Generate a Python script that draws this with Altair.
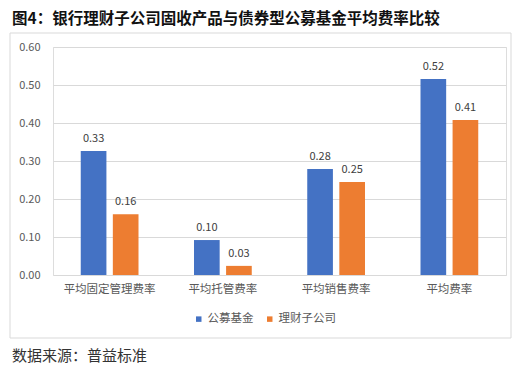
import altair as alt
import pandas as pd

categories = ["平均固定管理费率", "平均托管费率", "平均销售费率", "平均费率"]
series = ["公募基金", "理财子公司"]
fund_values = [0.326, 0.092, 0.279, 0.516]
wealth_values = [0.160, 0.024, 0.245, 0.408]
fund_labels = ["0.33", "0.10", "0.28", "0.52"]
wealth_labels = ["0.16", "0.03", "0.25", "0.41"]
y_ticks = [0, 0.1, 0.2, 0.3, 0.4, 0.5, 0.6]
colors = ["#4472C4", "#ED7D31"]
title_text = "图4：银行理财子公司固收产品与债券型公募基金平均费率比较"
source_text = "数据来源：普益标准"

rows = []
for i, c in enumerate(categories):
    rows.append({"cat": c, "series": series[0], "value": fund_values[i], "label": fund_labels[i]})
    rows.append({"cat": c, "series": series[1], "value": wealth_values[i], "label": wealth_labels[i]})
df = pd.DataFrame(rows)

FONT = "Noto Sans CJK SC"

x = alt.X("cat:N", sort=categories, title=None,
          scale=alt.Scale(paddingInner=0.49, paddingOuter=0.245),
          axis=alt.Axis(labelAngle=0, labelFontSize=11.5, labelColor="#595959", labelFont=FONT,
                        ticks=False, domain=False, labelPadding=8))
xo = alt.XOffset("series:N", sort=series, scale=alt.Scale(paddingInner=0.2))
y = alt.Y("value:Q", title=None,
          scale=alt.Scale(domain=[0, 0.6], nice=False),
          axis=alt.Axis(values=y_ticks, format=".2f", labelOverlap=False,
                        labelFontSize=11, labelColor="#595959", labelFont=FONT,
                        ticks=False, domain=False, labelPadding=13,
                        gridColor="#D9D9D9", gridWidth=1))

bars = alt.Chart(df).mark_bar().encode(
    x=x, xOffset=xo, y=y,
    color=alt.Color("series:N", sort=series,
                    scale=alt.Scale(domain=series, range=colors),
                    legend=alt.Legend(title=None, orient="none", legendX=140, legendY=266,
                                      direction="horizontal", symbolType="square",
                                      symbolSize=30, labelFontSize=11.5, labelColor="#595959",
                                      labelFont=FONT, columnPadding=10, labelOffset=3)),
)

labels = alt.Chart(df).mark_text(dy=-12, fontSize=11, color="#404040", font=FONT).encode(
    x=x, xOffset=xo, y=y, text="label:N",
)

deco = alt.Data(values=[{"a": 1}])
border = alt.Chart(deco).mark_rect(fill=None, stroke="#D9D9D9", strokeWidth=1, clip=False).encode(
    x=alt.value(-43), x2=alt.value(458), y=alt.value(-14), y2=alt.value(291)
)
title = alt.Chart(deco).mark_text(text=title_text, fontSize=15.5, fontWeight="bold", font=FONT,
                                   align="left", baseline="middle", color="#111111").encode(
    x=alt.value(-41), y=alt.value(-28)
)
source = alt.Chart(deco).mark_text(text=source_text, fontSize=15, font=FONT,
                                    align="left", baseline="middle", color="#333333").encode(
    x=alt.value(-41), y=alt.value(309)
)

chart = alt.layer(bars, labels, border, title, source).properties(
    width=453, height=228,
    autosize=alt.AutoSizeParams(type="none"),
    padding={"left": 45, "top": 39, "right": 17, "bottom": 95},
).configure_view(stroke=None).configure(background="white")

chart.save("out.html", embed_options={"renderer": "svg", "actions": False})
